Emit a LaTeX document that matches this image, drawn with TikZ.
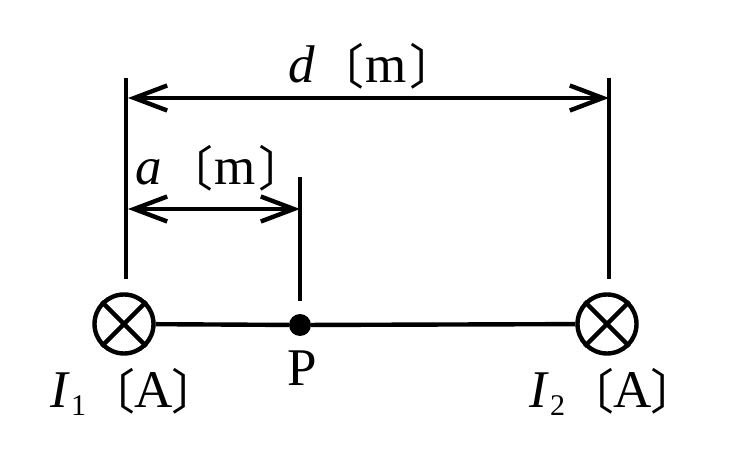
\documentclass[tikz,border=0pt]{standalone}
\usepackage{fontspec}
\setmainfont{Liberation Serif}
\newfontfamily\cjk{Noto Sans CJK JP}[Scale=1]
\usetikzlibrary{arrows.meta}
\newcommand{\lb}{{\fontsize{48}{48}\selectfont\cjk\symbol{"3014}}}
\newcommand{\rb}{{\fontsize{48}{48}\selectfont\cjk\symbol{"3015}}}
\tikzset{
  wire/.style={line width=4.4pt,black},
  coil/.style={circle,draw,line width=4.4pt,minimum size=59pt,inner sep=0pt,fill=white},
  dot/.style={circle,fill=black,minimum size=22pt,inner sep=0pt},
  lab/.style={anchor=base west,inner sep=0pt,font=\fontsize{53}{53}\selectfont},
  dim/.style={wire,{Straight Barb[length=33pt,width=25pt,line width=4.4pt]}-{Straight Barb[length=33pt,width=25pt,line width=4.4pt]}}
}
\begin{document}
\begin{tikzpicture}[x=1pt,y=-1pt]
\useasboundingbox (0,0) rectangle (729,470);
\fill[white] (0,0) rectangle (729,470);
\node[coil] (c1) at (124,324) {};
\node[coil] (c2) at (607,324) {};
\node[dot] (p) at (300,325) {};
\draw[wire] (c1) -- (p);
\draw[wire] (p) -- (c2);
\draw[wire] (c1.45) -- (c1.225);
\draw[wire] (c1.135) -- (c1.315);
\draw[wire] (c2.45) -- (c2.225);
\draw[wire] (c2.135) -- (c2.315);
\coordinate (l1t) at (126,78);
\coordinate (l1b) at (126,279);
\coordinate (l2t) at (609,78);
\coordinate (l2b) at (609,279);
\coordinate (l3t) at (300,177);
\coordinate (l3b) at (300,301);
\draw[wire] (l1t) -- (l1b);
\draw[wire] (l2t) -- (l2b);
\draw[wire] (l3t) -- (l3b);
\coordinate (da) at (128,98);
\coordinate (db) at (609,98);
\coordinate (aa) at (128,209);
\coordinate (ab) at (300,209);
\draw[dim] (da) -- (db);
\draw[dim] (aa) -- (ab);
\node[lab] (d) at (288,83) {\itshape d};
\node[lab] (dl) at (316,85) {\lb};
\node[lab] (dm) at (365,83) {m};
\node[lab] (dr) at (409,85) {\rb};
\node[lab] (al) at (135,185) {\itshape a};
\node[lab] (all) at (165,187) {\lb};
\node[lab] (am) at (214,185) {m};
\node[lab] (alr) at (258,187) {\rb};
\node[lab] (pl) at (287,386) {P};
\node[lab] (i1) at (50,408) {\itshape I};
\node[lab,font=\fontsize{30}{30}\selectfont] (i1s) at (71,416) {1};
\node[lab] (l1) at (87,410) {\lb};
\node[lab] (a1) at (134,408) {A};
\node[lab] (r1) at (171,410) {\rb};
\node[lab] (i2) at (529,408) {\itshape I};
\node[lab,font=\fontsize{30}{30}\selectfont] (i2s) at (550,416) {2};
\node[lab] (l2) at (566,410) {\lb};
\node[lab] (a2) at (613,408) {A};
\node[lab] (r2) at (650,410) {\rb};
\end{tikzpicture}
\end{document}
